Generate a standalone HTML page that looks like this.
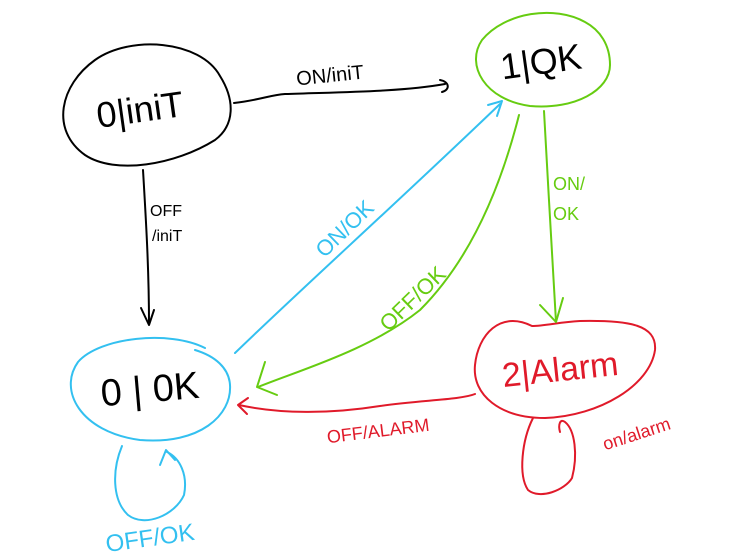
<!DOCTYPE html>
<html><head><meta charset="utf-8"><style>
html,body{margin:0;padding:0;background:#fff;width:730px;height:559px;overflow:hidden}
text{font-family:"Liberation Sans",sans-serif}
</style></head><body>
<svg width="730" height="559" viewBox="0 0 730 559" fill="none" stroke-width="2" stroke-linecap="round" stroke-linejoin="round">
<!-- states -->
<g>
<path d="M220,76 C200,40 130,35 95,60 C60,85 50,130 85,155 C115,175 175,165 215,140 C235,125 235,100 220,76 Z" stroke="#000"/>
<text x="140" y="122" font-size="36" fill="#000" stroke="none" text-anchor="middle" transform="rotate(-8 140 110)">0|iniT</text>
</g>
<g>
<path d="M585,22 C555,5 505,12 482,40 C465,65 485,100 530,106 C575,110 610,90 610,65 C610,45 600,30 585,22 Z" stroke="#66cc11"/>
<text x="541" y="74" font-size="36" fill="#000" stroke="none" text-anchor="middle" transform="rotate(-8 541 62)">1|QK</text>
</g>
<g>
<path d="M205,348 C170,330 100,337 78,362 C58,390 80,432 140,440 C200,445 232,415 230,385 C229,368 215,356 195,350" stroke="#33c0f0"/>
<text x="150" y="402" font-size="38" fill="#000" stroke="none" text-anchor="middle" transform="rotate(-5 150 390)">0 | 0K</text>
</g>
<g>
<path d="M532,326 C500,310 478,335 475,365 C472,395 500,418 545,418 C600,416 650,385 655,350 C657,325 630,320 580,321 C560,322 545,326 532,326 Z" stroke="#e01a2a"/>
<text x="560" y="381" font-size="34" fill="#e01a2a" stroke="none" text-anchor="middle" transform="rotate(-6 560 368)">2|Alarm</text>
</g>
<!-- transitions -->
<g>
<path d="M234,103 C260,100 270,95 285,94 C340,92 400,92 445,84" stroke="#000"/>
<path d="M440,80 C450,82 450,90 442,92" stroke="#000"/>
<text x="330" y="82" font-size="20" fill="#000" stroke="none" text-anchor="middle" transform="rotate(-6 330 75)">ON/iniT</text>
</g>
<g>
<path d="M143,170 C146,220 149,270 149,324" stroke="#000"/>
<path d="M141,308 L149,325 L154,310" stroke="#000"/>
<text x="150" y="216" font-size="16" fill="#000" stroke="none">OFF</text>
<text x="152" y="241" font-size="16" fill="#000" stroke="none">/iniT</text>
</g>
<g>
<path d="M235,353 C300,290 400,200 500,104" stroke="#33c0f0"/>
<path d="M488,105 L502,101 L497,116" stroke="#33c0f0"/>
<text x="345" y="236" font-size="22" fill="#33c0f0" stroke="none" text-anchor="middle" transform="rotate(-44 345 229)">ON/OK</text>
</g>
<g>
<path d="M519,115 C500,190 470,260 420,310 C370,350 300,370 258,387" stroke="#66cc11"/>
<path d="M265,362 L257,387 L277,395" stroke="#66cc11"/>
<text x="413" y="306" font-size="22" fill="#66cc11" stroke="none" text-anchor="middle" transform="rotate(-44 413 299)">OFF/OK</text>
</g>
<g>
<path d="M544,111 C548,180 552,260 556,322" stroke="#66cc11"/>
<path d="M540,305 L556,322 L563,298" stroke="#66cc11"/>
<text x="553" y="190" font-size="18" fill="#66cc11" stroke="none">ON/</text>
<text x="553" y="220" font-size="18" fill="#66cc11" stroke="none">OK</text>
</g>
<g>
<path d="M475,394 C460,400 420,400 380,406 C330,414 280,414 239,405" stroke="#e01a2a"/>
<path d="M248,398 L238,405 L247,414" stroke="#e01a2a"/>
<text x="378" y="437" font-size="18" fill="#e01a2a" stroke="none" text-anchor="middle" transform="rotate(-7 378 430)">OFF/ALARM</text>
</g>
<g>
<path d="M533,418 C522,440 518,475 528,490 C540,500 565,490 572,478 C578,455 575,430 565,422 C560,418 558,425 560,432" stroke="#e01a2a"/>
<text x="636" y="440" font-size="18" fill="#e01a2a" stroke="none" text-anchor="middle" transform="rotate(-18 636 432)">on/alarm</text>
</g>
<g>
<path d="M122,446 C112,470 112,500 128,515 C145,528 175,515 184,495 C188,475 180,458 167,452" stroke="#33c0f0"/>
<path d="M160,465 L166,450 L175,460" stroke="#33c0f0"/>
<text x="150" y="546" font-size="24" fill="#33c0f0" stroke="none" text-anchor="middle" transform="rotate(-8 150 538)">OFF/OK</text>
</g>
</svg>
</body></html>
